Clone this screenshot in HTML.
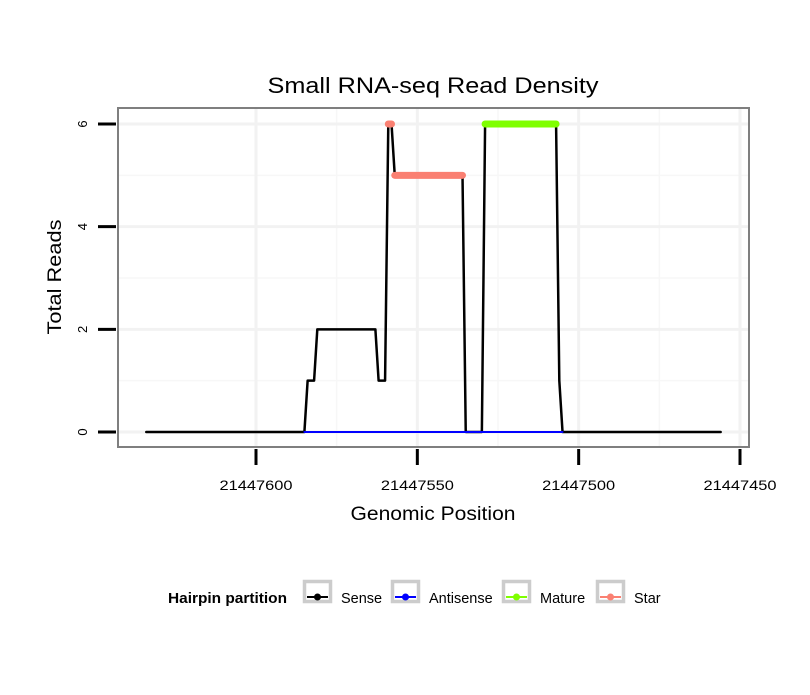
<!DOCTYPE html>
<html><head><meta charset="utf-8"><style>
body{margin:0;background:#fff}
svg text{font-family:"Liberation Sans",sans-serif}
</style></head><body>
<svg width="810" height="690" xmlns="http://www.w3.org/2000/svg">
<text x="433" y="93" font-size="22" text-anchor="middle" textLength="331" lengthAdjust="spacingAndGlyphs">Small RNA-seq Read Density</text>
<g id="grid"></g>
<rect x="118" y="108" width="631" height="339" fill="none" stroke="#7f7f7f" stroke-width="2"/>
<g id="series"></g>
<g id="axes"></g>
<text x="433" y="520" font-size="19" text-anchor="middle" textLength="165" lengthAdjust="spacingAndGlyphs">Genomic Position</text>
<text transform="translate(61,277) rotate(-90)" font-size="19" text-anchor="middle" textLength="115" lengthAdjust="spacingAndGlyphs">Total Reads</text>
<g>
<text x="168" y="603" font-size="14.5" font-weight="bold" textLength="119" lengthAdjust="spacingAndGlyphs">Hairpin partition</text>
<g id="legend"></g>
</g>
</svg>
<script>
const xTicks=[21447600,21447550,21447500,21447450];
const xTickLabels=["21447600","21447550","21447500","21447450"];
const yTicks=[0,2,4,6];
const yTickLabels=["0","2","4","6"];
const senseX=[21447634,21447585,21447584,21447582,21447581,21447563,21447562,21447560,21447559,21447558,21447557,21447536,21447535,21447530,21447529,21447507,21447506,21447505,21447456];
const senseY=[0,0,1,1,2,2,1,1,6,6,5,5,0,0,6,6,1,0,0];
const antisenseX=[21447585,21447505];
const antisenseY=[0,0];
const starSegX=[[21447559,21447558],[21447557,21447536]];
const starSegY=[[6,6],[5,5]];
const matureX=[21447529,21447507];
const matureY=[6,6];
const legendNames=["Sense","Antisense","Mature","Star"];
const legendColors=["#000000","#0000ff","#7fff00","#fa8072"];

const NS="http://www.w3.org/2000/svg";
const xs=v=>256+(21447600-v)*(484/150);
const ys=v=>432-v*(308/6);
function mk(tag,attrs,parent){const e=document.createElementNS(NS,tag);for(const k in attrs)e.setAttribute(k,attrs[k]);parent.appendChild(e);return e;}
const grid=document.getElementById('grid'),axes=document.getElementById('axes'),series=document.getElementById('series');
for(let i=0;i<xTicks.length-1;i++){const m=(xTicks[i]+xTicks[i+1])/2;const l=mk('line',{x1:xs(m),x2:xs(m),y1:109,y2:446,stroke:'#f7f7f7','stroke-width':1.5},grid);

}
for(let i=0;i<yTicks.length-1;i++){const m=(yTicks[i]+yTicks[i+1])/2;const l=mk('line',{x1:119,x2:748,y1:ys(m),y2:ys(m),stroke:'#f7f7f7','stroke-width':1.5},grid);

}
xTicks.forEach((t,i)=>{const x=xs(t);
if(x<748){const g=mk('line',{x1:x,x2:x,y1:109,y2:446,stroke:'#f2f2f2','stroke-width':3},grid);

}
const tk=mk('line',{x1:x,x2:x,y1:449,y2:465,stroke:'#000','stroke-width':3},axes);


const tx=mk('text',{x:x,y:490,'font-size':14,'text-anchor':'middle',textLength:73,lengthAdjust:'spacingAndGlyphs'},axes);tx.textContent=xTickLabels[i];

});
yTicks.forEach((t,i)=>{const y=ys(t);
const g=mk('line',{x1:119,x2:748,y1:y,y2:y,stroke:'#f2f2f2','stroke-width':3},grid);


const tk=mk('line',{x1:98,x2:116,y1:y,y2:y,stroke:'#000','stroke-width':3},axes);


const tx=mk('text',{transform:`translate(87,${y}) rotate(-90)`,'font-size':13,'text-anchor':'middle'},axes);tx.textContent=yTickLabels[i];

});
function poly(X,Y,color,w,name){const p=mk('polyline',{points:X.map((v,i)=>xs(v)+','+ys(Y[i])).join(' '),fill:'none',stroke:color,'stroke-width':w,'stroke-linecap':'round','stroke-linejoin':'round'},series);

}
poly(senseX,senseY,'#000',2.5,'sense-line');
poly(antisenseX,antisenseY,'#0000ff',2,'antisense-line');
poly(matureX,matureY,'#7fff00',7,'mature-line');
starSegX.forEach((sx,i)=>poly(sx,starSegY[i],'#fa8072',7,'star-line'));
const lg=document.getElementById('legend');
const boxX=[303,391,502,596];
legendNames.forEach((n,i)=>{const bx=boxX[i];
const r=mk('rect',{x:bx+1.5,y:581.5,width:26,height:20,fill:'#fff',stroke:'#cccccc','stroke-width':3.5},lg);


mk('line',{x1:bx+4,x2:bx+25,y1:597,y2:597,stroke:legendColors[i],'stroke-width':2},lg);
mk('circle',{cx:bx+14.5,cy:597,r:3.5,fill:legendColors[i]},lg);
const t=mk('text',{x:bx+38,y:603,'font-size':14.5},lg);t.textContent=n;

});
</script>
</body></html>
